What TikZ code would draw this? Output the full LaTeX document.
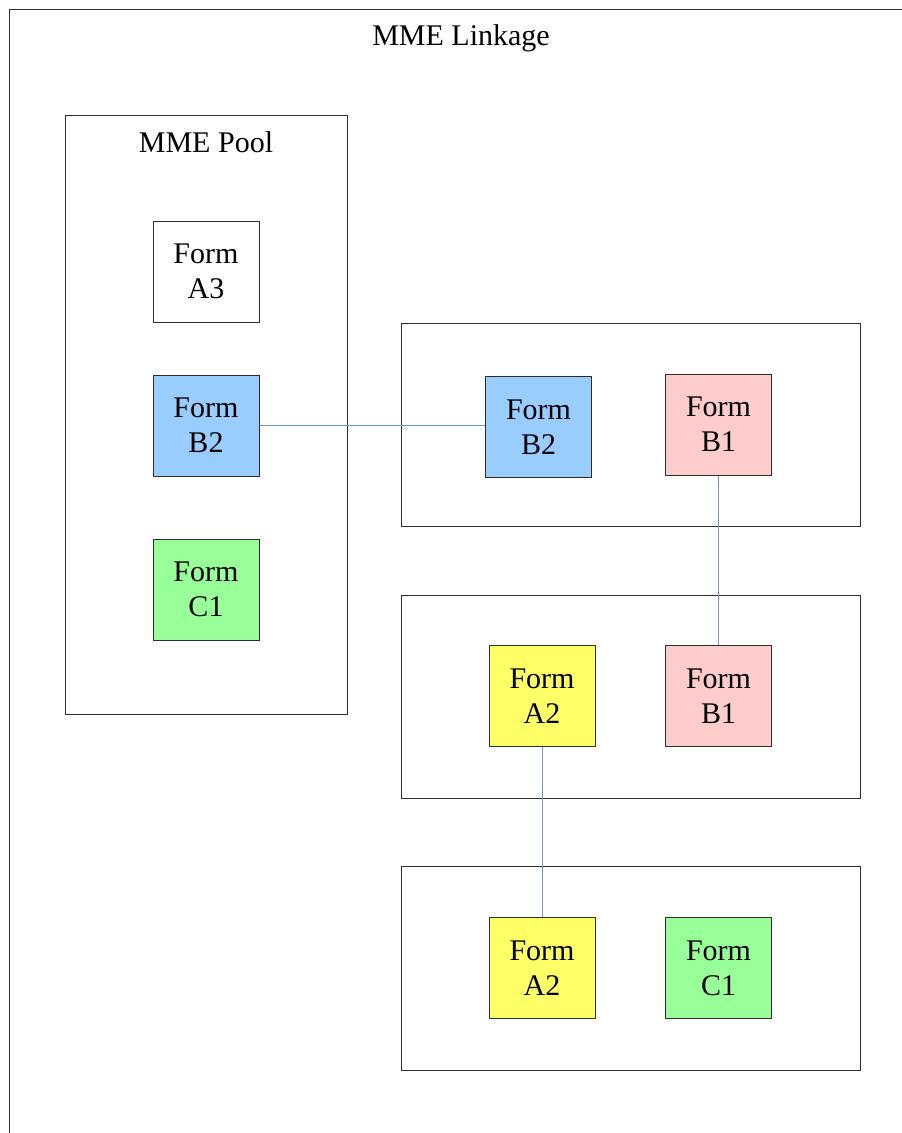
\documentclass[tikz,border=0pt]{standalone}
\usepackage{fontspec}
\setmainfont{Liberation Serif}
\definecolor{fblue}{RGB}{153,204,255}
\definecolor{fpink}{RGB}{255,204,204}
\definecolor{fgreen}{RGB}{153,255,153}
\definecolor{fyellow}{RGB}{255,255,102}
\definecolor{linkc}{RGB}{110,150,215}
\definecolor{edgec}{RGB}{45,45,45}
\begin{document}
\begin{tikzpicture}[x=1pt,y=-1pt,
  form/.style={draw=edgec,line width=1pt,minimum width=106pt,minimum height=101pt,inner sep=0pt,align=center,font=\fontsize{30}{35}\selectfont},
  grp/.style={draw=edgec,line width=1pt,inner sep=0pt},
  ttl/.style={inner sep=0pt,font=\fontsize{30}{35}\selectfont},
  link/.style={draw=linkc,line width=1pt}]
\useasboundingbox (0,0) rectangle (902,1133);
\coordinate (oa) at (9,1140);
\coordinate (ob) at (9,9);
\coordinate (oc) at (910,9);
\draw[edgec,line width=1pt] (oa) -- (ob) -- (oc);
\node[ttl] (t1) at (461,38.5) {MME Linkage};
% pool
\node[grp,minimum width=282pt,minimum height=599pt] (pool) at (206,414.5) {};
\node[ttl] (t2) at (206,142) {MME Pool};
\node[form,fill=white] (pA3) at (206,271.5) {Form\\A3};
\node[form,fill=fblue] (pB2) at (206,425.5) {Form\\B2};
\node[form,fill=fgreen] (pC1) at (206,589.5) {Form\\C1};
% groups
\node[grp,minimum width=459pt,minimum height=203pt] (g1) at (630.5,424.5) {};
\node[grp,minimum width=459pt,minimum height=203pt] (g2) at (630.5,696.5) {};
\node[grp,minimum width=459pt,minimum height=204pt] (g3) at (630.5,968) {};
\node[form,fill=fblue] (g1B2) at (538.5,427) {Form\\B2};
\node[form,fill=fpink] (g1B1) at (718.5,424.5) {Form\\B1};
\node[form,fill=fyellow] (g2A2) at (542,696) {Form\\A2};
\node[form,fill=fpink] (g2B1) at (718.5,696) {Form\\B1};
\node[form,fill=fyellow] (g3A2) at (542,968) {Form\\A2};
\node[form,fill=fgreen] (g3C1) at (718.5,968) {Form\\C1};
% links
\draw[link] (pB2.east) -- (pB2.east -| g1B2.west);
\draw[link] (g1B1.south) -- (g2B1.north);
\draw[link] (g2A2.south) -- (g3A2.north);
\end{tikzpicture}
\end{document}
